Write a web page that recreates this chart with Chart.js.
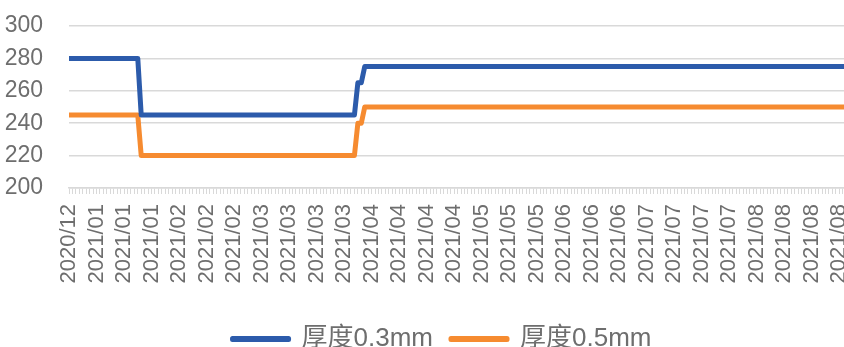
<!DOCTYPE html>
<html lang="zh">
<head>
<meta charset="UTF-8">
<title>厚度</title>
<script src="https://cdn.jsdelivr.net/npm/chart.js"></script>
<style>
  html, body { margin: 0; padding: 0; overflow: hidden; background: #fff; }
  #wrap { width: 884px; height: 362px; }
</style>
</head>
<body>
<div id="wrap"><canvas id="chart"></canvas></div>
<script>
// one label every 8 samples along the x axis
const tickLabels = [
  '2020/12',
  '2021/01', '2021/01', '2021/01',
  '2021/02', '2021/02', '2021/02',
  '2021/03', '2021/03', '2021/03', '2021/03',
  '2021/04', '2021/04', '2021/04', '2021/04',
  '2021/05', '2021/05', '2021/05',
  '2021/06', '2021/06', '2021/06',
  '2021/07', '2021/07', '2021/07', '2021/07',
  '2021/08', '2021/08', '2021/08', '2021/08'
];
const labelEvery = 8;
const lastSample = 237;

// sample index where the value changes, and the value there
const thk03Idx = [0, 20, 21, 83, 84, 85, 86, 237];
const thk03Val = [280, 280, 245, 245, 265, 265, 275, 275];
const thk05Idx = [0, 20, 21, 83, 84, 85, 86, 237];
const thk05Val = [245, 245, 220, 220, 240, 240, 250, 250];

const seriesNames = ['厚度0.3mm', '厚度0.5mm'];
const seriesColors = ['#2C5BAB', '#F68B30'];

const toPoints = (idx, val) => idx.map((x, i) => ({ x: x, y: val[i] }));

const textColor = '#6E6E6E';
const gridColor = '#D9D9D9';
const fontFamily = '"Liberation Sans", Arial, "Noto Sans CJK SC", sans-serif';

function makeSet(name, color, pts) {
  return {
    label: name,
    data: pts,
    borderColor: color,
    backgroundColor: color,
    borderWidth: 5,
    borderCapStyle: 'round',
    borderJoinStyle: 'round',
    pointRadius: 0,
    pointHoverRadius: 0,
    tension: 0,
    fill: false
  };
}

new Chart(document.getElementById('chart'), {
  type: 'line',
  data: {
    datasets: [
      makeSet(seriesNames[0], seriesColors[0], toPoints(thk03Idx, thk03Val)),
      makeSet(seriesNames[1], seriesColors[1], toPoints(thk05Idx, thk05Val))
    ]
  },
  options: {
    responsive: true,
    maintainAspectRatio: false,
    animation: false,
    devicePixelRatio: 1,
    layout: { padding: { top: 26, left: 0, right: 0, bottom: 0 } },
    plugins: {
      tooltip: { enabled: false },
      legend: {
        position: 'bottom',
        labels: {
          boxWidth: 56,
          boxHeight: 1,
          padding: 18,
          color: textColor,
          font: { family: fontFamily, size: 26 }
        }
      }
    },
    scales: {
      x: {
        type: 'linear',
        min: 0,
        max: lastSample,
        afterFit: function (scale) {
          scale.height = 120;
          scale.paddingLeft = 0;
          scale.paddingRight = 0;
        },
        grid: {
          drawOnChartArea: false,
          drawTicks: true,
          tickLength: 6,
          color: gridColor
        },
        border: { color: gridColor, width: 1.5 },
        ticks: {
          stepSize: 1,
          autoSkip: false,
          minRotation: 90,
          maxRotation: 90,
          padding: 10,
          color: textColor,
          font: { family: fontFamily, size: 22 },
          callback: function (value) {
            if (value % labelEvery !== 0) return '';
            return tickLabels[value / labelEvery] || '';
          }
        }
      },
      y: {
        min: 200,
        max: 300,
        afterFit: function (scale) {
          scale.width = 69;
          scale.paddingTop = 0;
          scale.paddingBottom = 0;
        },
        grid: {
          drawTicks: false,
          color: gridColor,
          lineWidth: 1.5
        },
        border: { display: false },
        ticks: {
          stepSize: 20,
          autoSkip: false,
          padding: 26,
          color: textColor,
          font: { family: fontFamily, size: 23 }
        }
      }
    }
  }
});
</script>
</body>
</html>
